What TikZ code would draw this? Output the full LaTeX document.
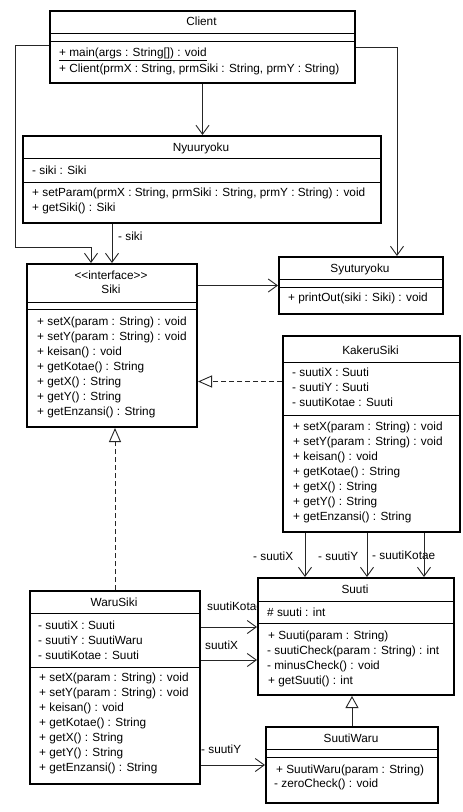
\documentclass[tikz,border=0pt]{standalone}
\usepackage{fontspec}
\setmainfont{Liberation Sans}
\usetikzlibrary{arrows.meta}
\tikzset{
  cls/.style={draw, line width=2pt, fill=white, anchor=north west, inner sep=0pt},
  ttl/.style={inner sep=0pt, text height=8.6pt, text depth=2.5pt},
  mem/.style={anchor=west, inner sep=0pt, text height=8.6pt, text depth=2.5pt},
  sep/.style={line width=0.9pt},
  assoc/.style={draw=black!85, line width=0.9pt, -{Straight Barb[length=9pt,width=13pt]}},
  real/.style={draw=black!85, line width=0.9pt, dash pattern=on 5pt off 3pt, -{Triangle[open,length=14pt,width=12pt]}},
  gen/.style={draw=black!85, line width=0.9pt, -{Triangle[open,length=12pt,width=13pt]}}
}
\begin{document}
\begin{tikzpicture}[x=1pt, y=-1pt, font=\fontsize{11.8pt}{14pt}\selectfont]
  \useasboundingbox[fill=white] (0,0) rectangle (463,812);
  % role labels
  \node[mem] (lsiki) at (118,237) {- siki};
  \node[mem] (lkx) at (253,557) {- suutiX};
  \node[mem] (lky) at (318,557) {- suutiY};
  \node[mem] (lkk) at (372,556) {- suutiKotae};
  \node[mem] (lwk) at (207,607) {suutiKotae};
  \node[mem] (lwx) at (205,646) {suutiX};
  \node[mem] (lwy) at (201,750) {- suutiY};
  % Client
  \node[cls, minimum width=305, minimum height=72] (client) at (49,10) {};
  \node[ttl] at (201.5,22) {Client};
  \draw[sep] (client.west |- 0,33) -- (client.east |- 0,33);
  \draw[sep] (client.west |- 0,41) -- (client.east |- 0,41);
  \node[mem] at (59,53) {\underline{+ main(args : String[]) : void}};
  \node[mem] at (59,69) {+ Client(prmX : String, prmSiki : String, prmY : String)};
  % Nyuuryoku
  \node[cls, minimum width=358, minimum height=87] (nyu) at (22,135) {};
  \node[ttl] at (201,148) {Nyuuryoku};
  \draw[sep] (nyu.west |- 0,158) -- (nyu.east |- 0,158);
  \node[mem] at (32,171) {- siki : Siki};
  \draw[sep] (nyu.west |- 0,182) -- (nyu.east |- 0,182);
  \node[mem] at (32,193) {+ setParam(prmX : String, prmSiki : String, prmY : String) : void};
  \node[mem] at (32,208) {+ getSiki() : Siki};
  % Siki
  \node[cls, minimum width=170, minimum height=163] (siki) at (26,263) {};
  \node[ttl] at (111,276) {{<}{<}interface{>}{>}};
  \node[ttl] at (111,290) {Siki};
  \draw[sep] (siki.west |- 0,302) -- (siki.east |- 0,302);
  \draw[sep] (siki.west |- 0,309) -- (siki.east |- 0,309);
  \node[mem] at (37,322) {+ setX(param : String) : void};
  \node[mem] at (37,337) {+ setY(param : String) : void};
  \node[mem] at (37,352) {+ keisan() : void};
  \node[mem] at (37,367) {+ getKotae() : String};
  \node[mem] at (37,382) {+ getX() : String};
  \node[mem] at (37,397) {+ getY() : String};
  \node[mem] at (37,412) {+ getEnzansi() : String};
  % Syuturyoku
  \node[cls, minimum width=164, minimum height=57] (syu) at (278,256) {};
  \node[ttl] at (360,269) {Syuturyoku};
  \draw[sep] (syu.west |- 0,279) -- (syu.east |- 0,279);
  \draw[sep] (syu.west |- 0,287) -- (syu.east |- 0,287);
  \node[mem] at (288,298) {+ printOut(siki : Siki) : void};
  % KakeruSiki
  \node[cls, minimum width=177, minimum height=196] (kak) at (282,335) {};
  \node[ttl] at (370.5,351) {KakeruSiki};
  \draw[sep] (kak.west |- 0,362) -- (kak.east |- 0,362);
  \node[mem] at (292,373) {- suutiX : Suuti};
  \node[mem] at (292,388) {- suutiY : Suuti};
  \node[mem] at (292,403) {- suutiKotae : Suuti};
  \draw[sep] (kak.west |- 0,415) -- (kak.east |- 0,415);
  \node[mem] at (293,427) {+ setX(param : String) : void};
  \node[mem] at (293,442) {+ setY(param : String) : void};
  \node[mem] at (293,457) {+ keisan() : void};
  \node[mem] at (293,472) {+ getKotae() : String};
  \node[mem] at (293,487) {+ getX() : String};
  \node[mem] at (293,502) {+ getY() : String};
  \node[mem] at (293,517) {+ getEnzansi() : String};
  % Suuti
  \node[cls, minimum width=196, minimum height=117] (suuti) at (257,577) {};
  \node[ttl] at (355,590) {Suuti};
  \draw[sep] (suuti.west |- 0,601) -- (suuti.east |- 0,601);
  \node[mem] at (267,613) {\# suuti : int};
  \draw[sep] (suuti.west |- 0,623) -- (suuti.east |- 0,623);
  \node[mem] at (268,636) {+ Suuti(param : String)};
  \node[mem] at (267,651) {- suutiCheck(param : String) : int};
  \node[mem] at (267,666) {- minusCheck() : void};
  \node[mem] at (268,681) {+ getSuuti() : int};
  % WaruSiki
  \node[cls, minimum width=170, minimum height=193] (waru) at (29,590) {};
  \node[ttl] at (114,603) {WaruSiki};
  \draw[sep] (waru.west |- 0,613) -- (waru.east |- 0,613);
  \node[mem] at (38,626) {- suutiX : Suuti};
  \node[mem] at (38,641) {- suutiY : SuutiWaru};
  \node[mem] at (38,656) {- suutiKotae : Suuti};
  \draw[sep] (waru.west |- 0,667) -- (waru.east |- 0,667);
  \node[mem] at (39,678) {+ setX(param : String) : void};
  \node[mem] at (39,693) {+ setY(param : String) : void};
  \node[mem] at (39,708) {+ keisan() : void};
  \node[mem] at (39,723) {+ getKotae() : String};
  \node[mem] at (39,738) {+ getX() : String};
  \node[mem] at (39,753) {+ getY() : String};
  \node[mem] at (39,768) {+ getEnzansi() : String};
  % SuutiWaru
  \node[cls, minimum width=172, minimum height=76] (sw) at (265,726) {};
  \node[ttl] at (351,739) {SuutiWaru};
  \draw[sep] (sw.west |- 0,749) -- (sw.east |- 0,749);
  \draw[sep] (sw.west |- 0,757) -- (sw.east |- 0,757);
  \node[mem] at (276,770) {+ SuutiWaru(param : String)};
  \node[mem] at (274,784) {- zeroCheck() : void};
  % connectors
  \draw[assoc] (client.south) -- (client.south |- nyu.north);
  \draw[assoc] ([yshift=2pt]client.west) -| (15,247) -| ([xshift=-21pt]siki.north);
  \draw[assoc] (client.east) -| ([xshift=36pt]syu.north);
  \draw[assoc] (nyu.south -| siki.north) -- (siki.north);
  \draw[assoc] (syu.west -| siki.east) -- (syu.west);
  \coordinate (kr) at ([yshift=-36pt]siki.east);
  \draw[real] (kr -| kak.west) -- (kr);
  \draw[real] (waru.north) -- (waru.north |- siki.south);
  \coordinate (kx) at ([xshift=-66.5pt]kak.south);
  \coordinate (ky) at ([xshift=-4.5pt]kak.south);
  \coordinate (kk) at ([xshift=52.5pt]kak.south);
  \draw[assoc] (kx) -- (kx |- suuti.north);
  \draw[assoc] (ky) -- (ky |- suuti.north);
  \draw[assoc] (kk) -- (kk |- suuti.north);
  \coordinate (wk) at ([yshift=9.5pt]suuti.west);
  \coordinate (wx) at ([yshift=-23.5pt]suuti.west);
  \draw[assoc] (wk -| waru.east) -- (wk);
  \draw[assoc] (wx -| waru.east) -- (wx);
  \draw[assoc] (sw.west -| waru.east) -- (sw.west);
  \draw[gen] (sw.north) -- (sw.north |- suuti.south);
\end{tikzpicture}
\end{document}
